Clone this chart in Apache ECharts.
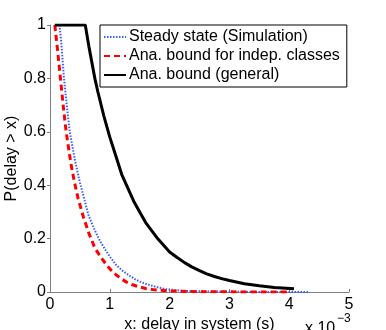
<!DOCTYPE html>
<html>
<head>
<meta charset="utf-8">
<script src="https://cdn.jsdelivr.net/npm/echarts@6/dist/echarts.min.js"></script>
<style>
  html, body { margin: 0; padding: 0; background: #fff; }
  #chart { width: 386px; height: 330px; }
</style>
</head>
<body>
<div id="chart"></div>
<script>
  // x values are in units of 10^-3 s
  var seriesNames = ['Steady state (Simulation)', 'Ana. bound for indep. classes', 'Ana. bound (general)'];

  var simX = [0.16, 0.19, 0.23, 0.28, 0.33, 0.42, 0.5, 0.56, 0.64, 0.75, 0.84, 0.92, 1.01, 1.11, 1.21, 1.31, 1.42, 1.53, 1.65, 1.76, 1.92, 2.2, 2.6, 3.2, 4.33];
  var simY = [1, 0.93, 0.81, 0.7, 0.6, 0.49, 0.41, 0.36, 0.29, 0.23, 0.19, 0.16, 0.13, 0.1, 0.08, 0.064, 0.048, 0.036, 0.027, 0.02, 0.011, 0.005, 0.002, 0.0005, 0];

  var indepX = [0.08, 0.12, 0.17, 0.22, 0.27, 0.35, 0.41, 0.47, 0.56, 0.65, 0.75, 0.85, 0.95, 1.02, 1.1, 1.19, 1.28, 1.38, 1.48, 1.6, 1.75, 2.0, 2.5, 3.0, 4.0];
  var indepY = [1, 0.92, 0.81, 0.7, 0.6, 0.48, 0.41, 0.35, 0.28, 0.22, 0.165, 0.13, 0.1, 0.082, 0.065, 0.05, 0.037, 0.027, 0.02, 0.013, 0.008, 0.004, 0.001, 0.0005, 0];

  var generalX = [0.08, 0.59, 0.65, 0.7, 0.75, 0.8, 0.9, 1.0, 1.1, 1.2, 1.3, 1.4, 1.5, 1.6, 1.7, 1.8, 1.9, 2.0, 2.12, 2.25, 2.37, 2.5, 2.62, 2.75, 2.87, 3.0, 3.25, 3.5, 3.75, 4.08];
  var generalY = [1, 1, 0.92, 0.86, 0.8, 0.75, 0.66, 0.58, 0.51, 0.44, 0.39, 0.34, 0.3, 0.26, 0.23, 0.2, 0.175, 0.15, 0.13, 0.11, 0.094, 0.08, 0.068, 0.058, 0.05, 0.043, 0.031, 0.023, 0.017, 0.012];

  var xTicks = [0, 1, 2, 3, 4, 5];
  var yTicks = [0, 0.2, 0.4, 0.6, 0.8, 1];

  function pairs(xs, ys) {
    var out = [];
    for (var i = 0; i < xs.length; i++) {
      out.push([xs[i], ys[i]]);
    }
    return out;
  }

  var font = "'Liberation Sans', Arial, Helvetica, sans-serif";
  var axisColor = '#808080';

  var chart = echarts.init(document.getElementById('chart'));
  var option = {
    animation: false,
    backgroundColor: '#fff',
    textStyle: { fontFamily: font },
    grid: { left: 50, right: 37, top: 25, bottom: 38, containLabel: false, outerBoundsMode: 'none' },
    legend: {
      orient: 'vertical',
      left: 100,
      top: 25,
      padding: [4, 7, 4, 3],
      itemGap: 3,
      itemWidth: 22,
      itemHeight: 14,
      borderColor: '#000',
      borderWidth: 1,
      backgroundColor: '#fff',
      itemStyle: { opacity: 0 },
      textStyle: { fontSize: 16, color: '#000', fontFamily: font, padding: [0, 0, 0, -2] },
      data: seriesNames
    },
    xAxis: {
      type: 'value',
      min: xTicks[0],
      max: xTicks[xTicks.length - 1],
      interval: 1,
      name: 'x: delay in system (s)',
      nameLocation: 'middle',
      nameGap: 25,
      nameMoveOverlap: false,
      nameTextStyle: { fontSize: 16, color: '#000', fontFamily: font },
      axisLine: { lineStyle: { color: axisColor, width: 1 } },
      axisTick: { inside: true, length: 3, lineStyle: { color: axisColor } },
      axisLabel: { fontSize: 16, color: '#000', margin: 5 },
      splitLine: { show: false }
    },
    yAxis: {
      type: 'value',
      min: yTicks[0],
      max: yTicks[yTicks.length - 1],
      interval: 0.2,
      name: 'P(delay > x)',
      nameLocation: 'middle',
      nameGap: 30,
      nameMoveOverlap: false,
      nameTextStyle: { fontSize: 16, color: '#000', fontFamily: font },
      axisLine: { show: true, lineStyle: { color: axisColor, width: 1 } },
      axisTick: { show: true, length: 3, lineStyle: { color: axisColor } },
      axisLabel: { fontSize: 16, color: '#000', margin: 4 },
      splitLine: { show: false }
    },
    graphic: [
      { type: 'text', left: 305, top: 321, style: { text: 'x 10', fontSize: 16, fill: '#000', fontFamily: font } },
      { type: 'text', left: 337, top: 313, style: { text: '\u22123', fontSize: 12, fill: '#000', fontFamily: font } }
    ],
    series: [
      {
        name: seriesNames[0],
        type: 'line',
        symbol: 'none',
        data: pairs(simX, simY),
        lineStyle: { color: '#3a5cff', width: 2, type: [1.5, 1.5] },
        itemStyle: { color: '#3a5cff' }
      },
      {
        name: seriesNames[1],
        type: 'line',
        symbol: 'none',
        data: pairs(indepX, indepY),
        lineStyle: { color: '#ff0000', width: 3, type: [6, 4] },
        itemStyle: { color: '#ff0000' }
      },
      {
        name: seriesNames[2],
        type: 'line',
        symbol: 'none',
        data: pairs(generalX, generalY),
        lineStyle: { color: '#000', width: 3, type: 'solid' },
        itemStyle: { color: '#000' }
      }
    ]
  };
  chart.setOption(option);
</script>
</body>
</html>
